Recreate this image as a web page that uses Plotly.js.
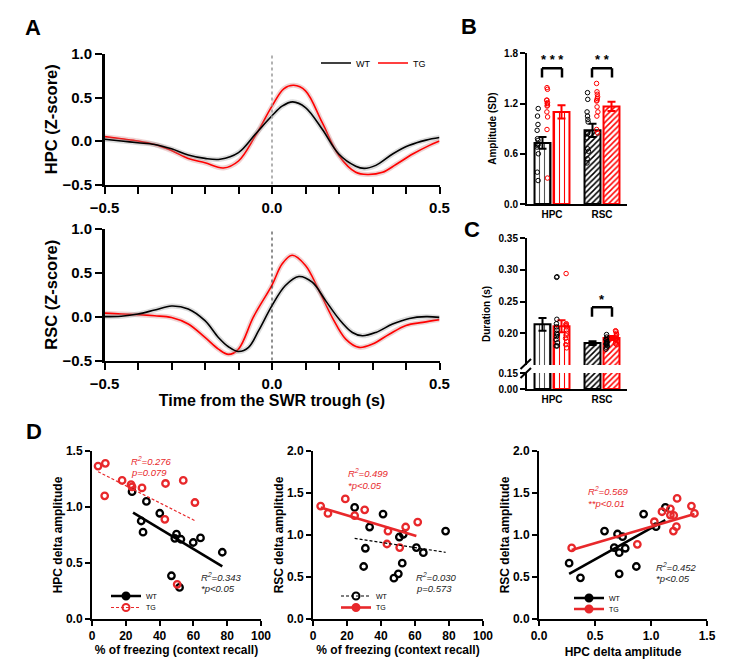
<!DOCTYPE html>
<html><head><meta charset="utf-8">
<script src="https://cdn.plot.ly/plotly-3.0.1.min.js"></script>
<style>html,body{margin:0;padding:0;background:#fff}#chart{width:751px;height:667px}</style>
</head><body><div id="chart"></div>
<script>
// ---------------- Panel A : mean traces around SWR trough ----------------
const tHpcWT = [-0.5,-0.45,-0.4,-0.35,-0.3,-0.25,-0.2,-0.155,-0.1,-0.05,0,0.03,0.062,0.1,0.15,0.2,0.25,0.275,0.31,0.36,0.41,0.46,0.5];
const hpcWT  = [0.02,0.0,-0.02,-0.04,-0.09,-0.16,-0.2,-0.21,-0.134,0.077,0.29,0.40,0.45,0.385,0.135,-0.153,-0.29,-0.315,-0.28,-0.15,-0.05,0.01,0.04];
const tHpcTG = [-0.5,-0.45,-0.4,-0.35,-0.3,-0.25,-0.2,-0.145,-0.1,-0.05,0,0.035,0.065,0.1,0.15,0.2,0.25,0.285,0.33,0.37,0.42,0.47,0.5];
const hpcTG  = [0.05,0.025,0.0,-0.04,-0.11,-0.2,-0.25,-0.31,-0.23,0.058,0.40,0.60,0.64,0.577,0.21,-0.17,-0.36,-0.385,-0.36,-0.27,-0.15,-0.05,0.0];
const tRscWT = [-0.5,-0.45,-0.4,-0.35,-0.3,-0.25,-0.2,-0.16,-0.13,-0.1,-0.07,-0.04,0,0.04,0.08,0.12,0.16,0.2,0.24,0.27,0.31,0.36,0.41,0.46,0.5];
const rscWT  = [0.0,0.005,0.03,0.076,0.122,0.088,-0.046,-0.237,-0.343,-0.397,-0.35,-0.16,0.126,0.355,0.458,0.393,0.183,-0.027,-0.18,-0.218,-0.18,-0.084,-0.02,0.0,-0.008];
const tRscTG = [-0.5,-0.45,-0.4,-0.35,-0.3,-0.25,-0.2,-0.16,-0.13,-0.1,-0.055,0,0.03,0.06,0.1,0.14,0.18,0.22,0.26,0.3,0.35,0.4,0.45,0.5];
const rscTG  = [0.04,0.03,0.023,0.01,-0.01,-0.084,-0.237,-0.37,-0.43,-0.37,0.0,0.36,0.60,0.70,0.584,0.30,-0.01,-0.256,-0.35,-0.313,-0.2,-0.1,-0.065,-0.034];

// ---------------- Panel B : amplitude ----------------
const regions = ['HPC','RSC'];
const ampWTmean = [0.73, 0.88];
const ampWTsem  = [0.07, 0.08];
const ampTGmean = [1.10, 1.165];
const ampTGsem  = [0.08, 0.055];
const ampHpcWT = [1.14,1.05,0.95,0.88,0.78,0.76,0.72,0.71,0.70,0.68,0.60,0.38,0.28];
const ampHpcTG = [1.39,1.37,1.24,1.24,1.21,1.20,1.18,1.17,1.10,1.04,0.89,0.31];
const ampRscWT = [1.33,1.25,1.10,1.05,1.01,0.98,0.85,0.84,0.79,0.66,0.63,0.54,0.49];
const ampRscTG = [1.44,1.34,1.31,1.28,1.26,1.24,1.23,1.16,1.10,1.05,0.89,0.85];

// ---------------- Panel C : duration ----------------
const durWTmean = [0.214, 0.1845];
const durWTsem  = [0.010, 0.003];
const durTGmean = [0.211, 0.1925];
const durTGsem  = [0.0095, 0.003];
const durHpcWT = [0.288,0.289,0.222,0.215,0.21,0.205,0.20,0.198,0.195,0.19,0.185,0.18,0.18];
const durHpcTG = [0.294,0.215,0.214,0.212,0.21,0.205,0.20,0.197,0.192,0.187,0.182,0.177];
const durRscWT = [0.198,0.194,0.19,0.19,0.187,0.186,0.185,0.184,0.183,0.182,0.18,0.178,0.175];
const durRscTG = [0.204,0.203,0.2,0.198,0.196,0.194,0.192,0.19,0.188,0.186,0.184,0.182];

// ---------------- Panel D : correlations ----------------
const d1WTx = [23.7,32.2,29.1,30.2,40.1,50.0,49.0,52.6,59.9,64.2,77.1,47.0,51.8];
const d1WTy = [1.137,1.05,0.875,0.775,0.944,0.757,0.72,0.712,0.683,0.724,0.596,0.386,0.282];
const d1TGx = [3.6,7.9,7.5,17.8,23.1,23.7,29.6,43.5,43.1,54.0,60.9,50.4];
const d1TGy = [1.365,1.39,1.10,1.237,1.20,1.18,1.17,1.21,0.89,1.237,1.04,0.31];
const d1WTfitX = [24.3,77.1], d1WTfitY = [0.95,0.469];
const d1TGfitX = [3.6,60.9],  d1TGfitY = [1.315,0.878];

const d2WTx = [24.5,33.3,41.2,30.8,29.8,50.8,53.1,60.8,64.9,78.0,47.6,50.2,52.5];
const d2WTy = [1.328,1.095,1.249,0.842,0.625,0.976,1.008,0.85,0.79,1.047,0.486,0.538,0.664];
const d2TGx = [4.5,8.8,19.0,24.5,30.4,44.1,43.5,51.0,54.5,61.6];
const d2TGy = [1.344,1.257,1.43,1.23,1.30,1.047,0.893,0.85,1.095,1.154];
const d2WTfitX = [24.5,78.0], d2WTfitY = [0.96,0.794];
const d2TGfitX = [4.5,60.8],  d2TGfitY = [1.328,0.988];

const d3WTx = [0.269,0.37,0.585,0.701,0.746,0.672,0.716,0.77,0.716,0.869,0.934,1.045,1.128];
const d3WTy = [0.664,0.49,1.047,1.012,0.98,0.85,0.79,0.842,0.538,0.625,1.249,1.099,1.328];
const d3TGx = [0.292,0.878,1.03,1.098,1.173,1.203,1.173,1.233,1.227,1.2,1.361,1.388];
const d3TGy = [0.846,0.889,1.158,1.277,1.312,1.233,1.237,1.435,1.099,1.047,1.344,1.257];
const d3WTfitX = [0.269,1.128], d3WTfitY = [0.538,1.178];
const d3TGfitX = [0.292,1.388], d3TGfitY = [0.822,1.249];

// ---------------- helpers ----------------
const W = 751, H = 667;
const PX = x => x / W, PY = y => 1 - y / H;
const FONT = '"Liberation Sans", Arial, sans-serif';
const RED = '#ff0000', DRED = '#e8282b', BLK = '#000000';

function ax(extra) {
  return Object.assign({
    showgrid:false, zeroline:false, showline:true, linecolor:BLK, linewidth:2,
    ticks:'outside', tickcolor:BLK, tickwidth:2, ticklen:5,
    tickfont:{family:FONT, size:12, color:BLK, weight:'bold'}, fixedrange:true
  }, extra);
}
function ttl(text, size, standoff) {
  return {text:text, font:{family:FONT, size:size, color:BLK, weight:'bold'}, standoff:standoff};
}

const traces = [];

// Panel A curves (SEM band = wide translucent line under a thin line)
function curve(t, y, xa, ya, color, band, name, leg, rank) {
  traces.push({type:'scatter', mode:'lines', x:t, y:y, xaxis:xa, yaxis:ya,
    line:{color:band, width:5, shape:'spline', smoothing:1}, showlegend:false, hoverinfo:'skip'});
  traces.push({type:'scatter', mode:'lines', x:t, y:y, xaxis:xa, yaxis:ya, name:name,
    line:{color:color, width:1.6, shape:'spline', smoothing:1},
    showlegend:leg, legend:'legend', legendrank:rank, hoverinfo:'skip'});
}
const BAND_R = 'rgba(205,120,120,0.33)', BAND_K = 'rgba(150,150,150,0.33)';
curve(tHpcTG, hpcTG, 'x', 'y', RED, BAND_R, 'TG', true, 2);
curve(tHpcWT, hpcWT, 'x', 'y', BLK, BAND_K, 'WT', true, 1);
curve(tRscTG, rscTG, 'x2', 'y2', RED, BAND_R, 'TG', false, 2);
curve(tRscWT, rscWT, 'x2', 'y2', BLK, BAND_K, 'WT', false, 1);

// Bars (B and C)
function bars(means, sems, color, fg, xa, ya, showErr) {
  traces.push({type:'bar', x:regions, y:means, xaxis:xa, yaxis:ya, showlegend:false, hoverinfo:'skip',
    marker:{color:'white', line:{color:color, width:2},
      pattern:{shape:['|','/'], fgcolor:fg, bgcolor:'white', size:[5,4], solidity:[0.22,0.38], fillmode:'replace'}},
    error_y: showErr ? {type:'data', array:sems, visible:true, color:color, thickness:2, width:4} : {visible:false}
  });
}
function pts(hpc, rsc, color, xa, ya) {
  const x = hpc.map(() => regions[0]).concat(rsc.map(() => regions[1]));
  traces.push({type:'box', x:x, y:hpc.concat(rsc), xaxis:xa, yaxis:ya, showlegend:false, hoverinfo:'skip',
    boxpoints:'all', jitter:0.22, pointpos:0, fillcolor:'rgba(0,0,0,0)', whiskerwidth:0,
    line:{width:0, color:'rgba(0,0,0,0)'},
    marker:{symbol:'circle-open', size:4.5, color:color, line:{width:1, color:color}}});
}
bars(ampWTmean, ampWTsem, BLK, ['#555555', BLK], 'x3', 'y3', true);
bars(ampTGmean, ampTGsem, RED, [RED, RED], 'x3', 'y3', true);
bars(durWTmean, durWTsem, BLK, ['#555555', BLK], 'x4', 'y4', true);
bars(durTGmean, durTGsem, RED, [RED, RED], 'x4', 'y4', true);
bars(durWTmean, durWTsem, BLK, ['#555555', BLK], 'x4', 'y5', false);
bars(durTGmean, durTGsem, RED, [RED, RED], 'x4', 'y5', false);
pts(ampHpcWT, ampRscWT, BLK, 'x3', 'y3');
pts(ampHpcTG, ampRscTG, RED, 'x3', 'y3');
pts(durHpcWT, durRscWT, BLK, 'x4', 'y4');
pts(durHpcTG, durRscTG, RED, 'x4', 'y4');

// Panel D scatter + fits
function sc(x, y, color, xa, ya) {
  traces.push({type:'scatter', mode:'markers', x:x, y:y, xaxis:xa, yaxis:ya, showlegend:false, hoverinfo:'skip',
    marker:{symbol:'circle-open', size:6.5, color:color, line:{width:2.3, color:color}}});
}
function fit(x, y, color, dashed, xa, ya) {
  traces.push({type:'scatter', mode:'lines', x:x, y:y, xaxis:xa, yaxis:ya, showlegend:false, hoverinfo:'skip',
    line:{color:color, width:dashed ? 1.2 : 2.6, dash:dashed ? '3px,2px' : 'solid'}});
}
function legItem(name, color, dashed, open, xa, ya, legId) {
  traces.push({type:'scatter', mode:'lines+markers', x:[null], y:[null], xaxis:xa, yaxis:ya, name:name,
    legend:legId, showlegend:true, hoverinfo:'skip',
    line:{color:color, width:dashed ? 1.2 : 2.6, dash:dashed ? '3px,2px' : 'solid'},
    marker:{symbol:open ? 'circle-open' : 'circle', size:7, color:color, line:{width:2, color:color}}});
}
sc(d1WTx, d1WTy, BLK, 'x6', 'y6'); sc(d1TGx, d1TGy, DRED, 'x6', 'y6');
fit(d1WTfitX, d1WTfitY, BLK, false, 'x6', 'y6'); fit(d1TGfitX, d1TGfitY, DRED, true, 'x6', 'y6');
legItem('WT', BLK, false, false, 'x6', 'y6', 'legend2');
legItem('TG', DRED, true, true, 'x6', 'y6', 'legend3');

sc(d2WTx, d2WTy, BLK, 'x7', 'y7'); sc(d2TGx, d2TGy, DRED, 'x7', 'y7');
fit(d2WTfitX, d2WTfitY, BLK, true, 'x7', 'y7'); fit(d2TGfitX, d2TGfitY, DRED, false, 'x7', 'y7');
legItem('WT', BLK, true, true, 'x7', 'y7', 'legend4');
legItem('TG', DRED, false, false, 'x7', 'y7', 'legend5');

sc(d3WTx, d3WTy, BLK, 'x8', 'y8'); sc(d3TGx, d3TGy, DRED, 'x8', 'y8');
fit(d3WTfitX, d3WTfitY, BLK, false, 'x8', 'y8'); fit(d3TGfitX, d3TGfitY, DRED, false, 'x8', 'y8');
legItem('WT', BLK, false, false, 'x8', 'y8', 'legend6');
legItem('TG', DRED, false, false, 'x8', 'y8', 'legend7');

// ---------------- layout ----------------
const aX = [PX(104.5), PX(439.5)];
const minorA = {tick0:-0.5, dtick:0.1, ticks:'outside', ticklen:7, tickwidth:2, tickcolor:BLK};
const catX = [PX(527), PX(627)];
const legBase = {bgcolor:'rgba(0,0,0,0)', borderwidth:0, font:{family:FONT, size:7, color:BLK},
  xanchor:'left', yanchor:'middle', itemwidth:30, itemclick:false, itemdoubleclick:false};

const layout = {
  width:W, height:H, margin:{l:0, r:0, t:0, b:0}, paper_bgcolor:'white', plot_bgcolor:'rgba(0,0,0,0)',
  font:{family:FONT, color:BLK}, showlegend:true,
  barmode:'group', bargap:0.24, bargroupgap:0.16, boxmode:'group', boxgap:0.24, boxgroupgap:0.16,
  // A
  xaxis: ax({domain:aX, anchor:'y', range:[-0.5,0.5], tick0:-0.5, dtick:0.5, tickformat:'.1f', ticklen:7,
    tickfont:{family:FONT, size:15, color:BLK, weight:'bold'}, ticklabelstandoff:1, minor:minorA, linewidth:2.5}),
  yaxis: ax({domain:[PY(184.5), PY(54)], anchor:'x', range:[-0.5,1.0], dtick:0.5, tickformat:'.1f', ticklen:7,
    tickfont:{family:FONT, size:15, color:BLK, weight:'bold'}, linewidth:2.5, title:ttl('HPC (Z-score)', 16.5, 1)}),
  xaxis2: ax({domain:aX, anchor:'y2', range:[-0.5,0.5], tick0:-0.5, dtick:0.5, tickformat:'.1f', ticklen:7,
    tickfont:{family:FONT, size:15, color:BLK, weight:'bold'}, ticklabelstandoff:1, minor:minorA, linewidth:2.5,
    title:ttl('Time from the SWR trough (s)', 16, 3)}),
  yaxis2: ax({domain:[PY(360.5), PY(229)], anchor:'x2', range:[-0.5,1.0], dtick:0.5, tickformat:'.1f', ticklen:7,
    tickfont:{family:FONT, size:15, color:BLK, weight:'bold'}, linewidth:2.5, title:ttl('RSC (Z-score)', 16.5, 1)}),
  // B
  xaxis3: ax({domain:catX, anchor:'y3', type:'category', range:[-0.5,1.5], ticks:'', tickfont:{family:FONT, size:10, color:BLK, weight:'bold'}}),
  yaxis3: ax({domain:[PY(204), PY(53.3)], anchor:'x3', range:[0,1.8], dtick:0.6, tickformat:'.1f',
    tickfont:{family:FONT, size:10, color:BLK, weight:'bold'}, title:ttl('Amplitude (SD)', 10, 6)}),
  // C (broken axis)
  xaxis4: ax({domain:catX, anchor:'y5', type:'category', range:[-0.5,1.5], ticks:'', tickfont:{family:FONT, size:10, color:BLK, weight:'bold'}}),
  yaxis4: ax({domain:[PY(365), PY(238)], anchor:'x4', range:[0.15,0.35], tickvals:[0.2,0.25,0.3,0.35], tickformat:'.2f',
    tickfont:{family:FONT, size:10, color:BLK, weight:'bold'}}),
  yaxis5: ax({domain:[PY(389), PY(373)], anchor:'x4', range:[0,0.15], tickvals:[0,0.15], tickformat:'.2f',
    tickfont:{family:FONT, size:10, color:BLK, weight:'bold'}}),
  // D
  xaxis6: ax({domain:[PX(92), PX(261)], anchor:'y6', range:[0,100], dtick:20, title:ttl('% of freezing (context recall)', 12, 0)}),
  yaxis6: ax({domain:[PY(619), PY(451)], anchor:'x6', range:[0,1.5], dtick:0.5, tickformat:'.1f', title:ttl('HPC delta amplitude', 12, 1)}),
  xaxis7: ax({domain:[PX(313), PX(483)], anchor:'y7', range:[0,100], dtick:20, title:ttl('% of freezing (context recall)', 12, 0)}),
  yaxis7: ax({domain:[PY(619), PY(451)], anchor:'x7', range:[0,2], dtick:0.5, tickformat:'.1f', title:ttl('RSC delta amplitude', 12, 1)}),
  xaxis8: ax({domain:[PX(539), PX(707)], anchor:'y8', range:[0,1.5], dtick:0.5, tickformat:'.1f', title:ttl('HPC delta amplitude', 12, 5)}),
  yaxis8: ax({domain:[PY(619), PY(451)], anchor:'x8', range:[0,2], dtick:0.5, tickformat:'.1f', title:ttl('RSC delta amplitude', 12, 1)}),
  // legends
  legend: Object.assign({}, legBase, {orientation:'h', x:PX(316), y:PY(63), font:{family:FONT, size:9, color:BLK},
    traceorder:'normal', entrywidth:12, entrywidthmode:'pixels'}),
  legend2: Object.assign({}, legBase, {x:PX(106), y:PY(596)}),
  legend3: Object.assign({}, legBase, {x:PX(106), y:PY(607.5)}),
  legend4: Object.assign({}, legBase, {x:PX(336), y:PY(596)}),
  legend5: Object.assign({}, legBase, {x:PX(336), y:PY(607.5)}),
  legend6: Object.assign({}, legBase, {x:PX(569), y:PY(598)}),
  legend7: Object.assign({}, legBase, {x:PX(569), y:PY(609)}),
  shapes: [],
  annotations: []
};

// dotted zero lines in A
layout.shapes.push({type:'line', xref:'x', yref:'y', x0:0, x1:0, y0:-0.5, y1:1.0, line:{color:'#999', width:1.5, dash:'dot'}});
layout.shapes.push({type:'line', xref:'x2', yref:'y2', x0:0, x1:0, y0:-0.5, y1:1.0, line:{color:'#222', width:1, dash:'dot'}});
// significance brackets
function bracket(xa, ya, c, yLo, yHi) {
  const L = {color:BLK, width:2.5};
  layout.shapes.push({type:'line', xref:xa, yref:ya, x0:c-0.2, x1:c+0.2, y0:yHi, y1:yHi, line:L});
  layout.shapes.push({type:'line', xref:xa, yref:ya, x0:c-0.2, x1:c-0.2, y0:yLo, y1:yHi, line:L});
  layout.shapes.push({type:'line', xref:xa, yref:ya, x0:c+0.2, x1:c+0.2, y0:yLo, y1:yHi, line:L});
}
bracket('x3', 'y3', 0, 1.51, 1.62);
bracket('x3', 'y3', 1, 1.51, 1.62);
bracket('x4', 'y4', 1, 0.226, 0.241);
// axis break marks in C
layout.shapes.push({type:'line', xref:'paper', yref:'paper', x0:PX(520.5), y0:PY(369), x1:PX(531), y1:PY(359), line:{color:BLK, width:2}});
layout.shapes.push({type:'line', xref:'paper', yref:'paper', x0:PX(520.5), y0:PY(378), x1:PX(531), y1:PY(368), line:{color:BLK, width:2}});

function ann(text, x, y, opts) {
  layout.annotations.push(Object.assign({text:text, x:x, y:y, xref:'paper', yref:'paper', showarrow:false,
    xanchor:'center', yanchor:'middle'}, opts));
}
const boldF = s => ({family:FONT, size:s, color:BLK, weight:'bold'});
// panel letters
ann('A', PX(33), PY(27), {font:boldF(22)});
ann('B', PX(469), PY(26), {font:boldF(22)});
ann('C', PX(472), PY(229), {font:boldF(22)});
ann('D', PX(34), PY(431), {font:boldF(22)});
// stars
layout.annotations.push({text:'* * *', x:0, y:1.72, xref:'x3', yref:'y3', showarrow:false, font:boldF(13)});
layout.annotations.push({text:'* *', x:1, y:1.72, xref:'x3', yref:'y3', showarrow:false, font:boldF(13)});
layout.annotations.push({text:'*', x:1, y:0.2535, xref:'x4', yref:'y4', showarrow:false, font:boldF(13)});
// C y title (centred on the whole broken axis)
ann('Duration (s)', PX(486), PY(314), {textangle:-90, font:boldF(10)});
// stats text in D
const itF = c => ({family:FONT, size:9.5, color:c, style:'italic'});
function stat(l1, l2, x, y1, y2, c) {
  ann(l1, PX(x), PY(y1), {xanchor:'left', font:itF(c)});
  ann(l2, PX(x), PY(y2), {xanchor:'left', font:itF(c)});
}
stat('R<sup>2</sup>=0.276', 'p=0.079', 129, 461, 473, DRED);
stat('R<sup>2</sup>=0.343', '*p<0.05', 199, 577, 588.5, '#222');
stat('R<sup>2</sup>=0.499', '*p<0.05', 346, 473, 485, DRED);
stat('R<sup>2</sup>=0.030', 'p=0.573', 414, 577, 588.5, '#222');
stat('R<sup>2</sup>=0.569', '**p<0.01', 586, 491, 503, DRED);
stat('R<sup>2</sup>=0.452', '*p<0.05', 654, 567, 578.5, '#222');

Plotly.newPlot('chart', traces, layout, {displayModeBar:false, staticPlot:true});
</script>
</body></html>
